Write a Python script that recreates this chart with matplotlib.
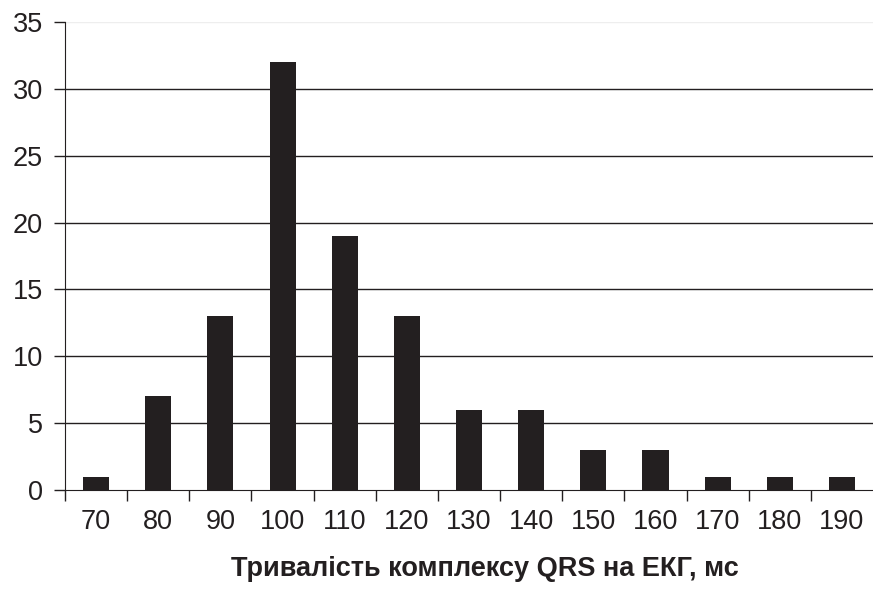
import numpy as np
import matplotlib.pyplot as plt

plt.rcParams['font.family'] = ['Liberation Sans', 'DejaVu Sans']

durations = ['70', '80', '90', '100', '110', '120', '130', '140', '150', '160', '170', '180', '190']
counts = [1, 7, 13, 32, 19, 13, 6, 6, 3, 3, 1, 1, 1]

ink = '#231f20'

fig = plt.figure(figsize=(8.73, 6.08), dpi=100)
ax = fig.add_axes([0.0745, 0.194, 0.9255, 0.770])

x = np.arange(len(durations))
ax.bar(x, counts, width=0.42, color=ink, zorder=3)

ax.set_ylim(0, 35)
ax.set_yticks(range(0, 36, 5))
for y in range(5, 31, 5):
    ax.axhline(y, color=ink, lw=1.0, zorder=1)
ax.axhline(35, color='#eeeeee', lw=1.0, zorder=1)

ax.set_xlim(-0.5, len(durations) - 0.5)
ax.set_xticks(x)
ax.set_xticklabels(durations)
ax.set_xticks(np.arange(-0.5, len(durations) - 0.5, 1), minor=True)
ax.tick_params(axis='x', which='major', length=0, pad=14, labelsize=19.5, colors=ink)
ax.tick_params(axis='x', which='minor', length=8, width=1, direction='out', color=ink)
ax.tick_params(axis='y', length=8, width=1, pad=8, labelsize=19.5, colors=ink)

for side in ['top', 'right']:
    ax.spines[side].set_visible(False)
ax.spines['left'].set_color(ink)
ax.spines['bottom'].set_color(ink)

ax.set_xlabel('Тривалість комплексу QRS на ЕКГ, мс', fontsize=19.5, fontweight='bold',
              color=ink)
ax.xaxis.set_label_coords(0.52, -0.14)

fig.savefig('out.png', dpi=100)
